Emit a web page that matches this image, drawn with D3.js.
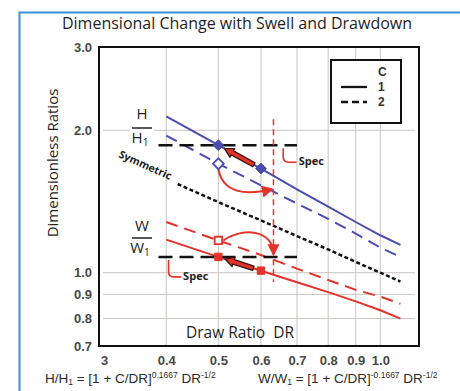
<!DOCTYPE html>
<html>
<head>
<meta charset="utf-8">
<script src="https://cdn.jsdelivr.net/npm/d3@7"></script>
<style>
  body { margin: 0; background: #fff; }
  svg { display: block; }
  .tick-label { font-family: 'Liberation Sans', Arial, sans-serif; font-size: 13px; font-weight: bold; fill: #484848; }
</style>
</head>
<body>
<div id="chart"></div>
<script>
// draw ratio values where the curves were read
const drPoints = [0.4, 0.5, 0.6, 0.7, 0.8, 0.9, 1.0, 1.09];
const symPoints = [0.42, 0.5, 0.6, 0.7, 0.8, 0.9, 1.0, 1.09];

// series values
const hSolid = [2.14, 1.86, 1.66, 1.50, 1.38, 1.28, 1.20, 1.145];
const hDashed = [1.95, 1.70, 1.53, 1.40, 1.30, 1.21, 1.13, 1.08];
const symmetric = [1.54, 1.41, 1.29, 1.195, 1.12, 1.054, 1.0, 0.958];
const wSolid = [1.175, 1.08, 1.01, 0.955, 0.91, 0.87, 0.833, 0.80];
const wDashed = [1.28, 1.17, 1.09, 1.02, 0.965, 0.92, 0.89, 0.86];

// markers
const hFilled = [{ dr: 0.5, v: 1.86 }, { dr: 0.6, v: 1.66 }];
const hOpen = [{ dr: 0.5, v: 1.70 }];
const wFilled = [{ dr: 0.5, v: 1.08 }, { dr: 0.6, v: 1.01 }];
const wOpen = [{ dr: 0.5, v: 1.17 }];

// spec lines and the limit line
const hSpec = 1.86;
const wSpec = 1.08;
const specRange = [0.387, 0.70];
const drLimit = 0.633;
const limitRange = [0.956, 2.11];

// ticks
const xTicks = [0.3, 0.4, 0.5, 0.6, 0.7, 0.8, 0.9, 1.0];
const xTickLabels = ['3', '0.4', '0.5', '0.6', '0.7', '0.8', '0.9', '1.0'];
const xGrid = [0.4, 0.5, 0.6, 0.7, 0.8, 0.9, 1.0];
const yTicks = [3.0, 2.0, 1.0, 0.9, 0.8, 0.7];
const yGrid = [2.0, 1.0, 0.9, 0.8];

const W = 460, H = 391;
const margin = { left: 99, top: 47, right: 41, bottom: 45 };
const width = W - margin.left - margin.right;
const height = H - margin.top - margin.bottom;

const blue = '#4a4dab';
const red = '#e3322a';
const sans = '"Open Sans", Lato, sans-serif';

let svg = d3.select('#chart').append('svg')
    .attr('width', W)
    .attr('height', H);

// outer blue frame
svg.append('path')
    .attr('d', `M19.5,${H} V12.5 H${W}`)
    .attr('fill', 'none')
    .attr('stroke', '#3d8fd2')
    .attr('stroke-width', 2);

// title
svg.append('text')
    .attr('x', 237).attr('y', 29)
    .attr('text-anchor', 'middle')
    .style('font-family', sans)
    .style('font-size', '16px')
    .style('fill', '#1e1e1e')
    .text('Dimensional Change with Swell and Drawdown');

// y title
svg.append('text')
    .attr('transform', 'translate(58,163) rotate(-90)')
    .attr('text-anchor', 'middle')
    .style('font-family', sans)
    .style('font-size', '15px')
    .style('fill', '#1e1e1e')
    .text('Dimensionless Ratios');

const chart = svg.append('g')
    .attr('transform', `translate(${margin.left}, ${margin.top})`);

// scales
const x = d3.scaleLog().domain([0.3, 1.18]).range([0, width]);
const y = d3.scaleLog().domain([0.7, 3.0]).range([height, 0]);

// grid
chart.append('g').attr('class', 'grid')
    .selectAll('line').data(xGrid).enter().append('line')
    .attr('x1', d => x(d)).attr('x2', d => x(d))
    .attr('y1', 0).attr('y2', height)
    .attr('stroke', '#c9c4c1').attr('stroke-width', 1);
chart.append('g').attr('class', 'grid')
    .selectAll('line').data(yGrid).enter().append('line')
    .attr('x1', 4).attr('x2', width - 4)
    .attr('y1', d => y(d)).attr('y2', d => y(d))
    .attr('stroke', '#c9c4c1').attr('stroke-width', 1);

// axes (labels only, frame drawn below)
const xAxis = chart.append('g').attr('transform', `translate(0, ${height})`)
    .call(d3.axisBottom(x).tickValues(xTicks).tickSize(0).tickPadding(10)
        .tickFormat((d, i) => xTickLabels[i]));
xAxis.select('.domain').remove();
xAxis.selectAll('text').attr('class', 'tick-label').attr('fill', null);
xAxis.selectAll('.tick').filter(d => d === 0.3).select('text').attr('dx', 5);

const yAxis = chart.append('g')
    .call(d3.axisLeft(y).tickValues(yTicks).tickSize(0).tickPadding(7)
        .tickFormat(d3.format('.1f')));
yAxis.select('.domain').remove();
yAxis.selectAll('text').attr('class', 'tick-label').attr('fill', null);

// legend box
const legend = chart.append('g').attr('transform', `translate(${331 - margin.left}, ${60 - margin.top})`);
legend.append('rect').attr('width', 70).attr('height', 63)
    .attr('fill', '#fff').attr('stroke', '#111').attr('stroke-width', 2);
[['C', 16], ['1', 31], ['2', 46]].forEach(([t, yy]) => {
    legend.append('text').attr('x', 47).attr('y', yy).text(t)
        .style('font-family', '"Liberation Sans", Arial, sans-serif')
        .style('font-size', '12px').style('font-weight', 'bold').style('fill', '#333');
});
legend.append('line').attr('x1', 10).attr('x2', 36).attr('y1', 27).attr('y2', 27)
    .attr('stroke', '#111').attr('stroke-width', 2.3);
legend.append('line').attr('x1', 10).attr('x2', 36).attr('y1', 42).attr('y2', 42)
    .attr('stroke', '#111').attr('stroke-width', 2.3).attr('stroke-dasharray', '7,4');

// series lines
const line = d3.line().x(d => x(d[0])).y(d => y(d[1]));
const series = [
    { dr: drPoints, v: hSolid, color: blue, dash: null, w: 2 },
    { dr: drPoints, v: hDashed, color: blue, dash: '12,7', w: 2 },
    { dr: symPoints, v: symmetric, color: '#111', dash: '4,2.5', w: 2.5 },
    { dr: drPoints, v: wSolid, color: red, dash: null, w: 2 },
    { dr: drPoints, v: wDashed, color: red, dash: '12,7', w: 2 }
];
chart.selectAll('.series').data(series).enter().append('path')
    .attr('class', 'series')
    .attr('d', s => line(s.dr.map((d, i) => [d, s.v[i]])))
    .attr('fill', 'none')
    .attr('stroke', s => s.color)
    .attr('stroke-width', s => s.w)
    .attr('stroke-dasharray', s => s.dash);

// spec lines
[hSpec, wSpec].forEach(v => {
    chart.append('line')
        .attr('x1', x(specRange[0])).attr('x2', x(specRange[1]))
        .attr('y1', y(v)).attr('y2', y(v))
        .attr('stroke', '#111').attr('stroke-width', 2.5)
        .attr('stroke-dasharray', '14,7');
});

// drawdown limit
chart.append('line')
    .attr('x1', x(drLimit)).attr('x2', x(drLimit))
    .attr('y1', y(limitRange[1])).attr('y2', y(limitRange[0]))
    .attr('stroke', red).attr('stroke-width', 1.5)
    .attr('stroke-dasharray', '6,4');

// thick arrows from the 0.6 marker back to the 0.5 marker
function thickArrow(from, to) {
    const x0 = x(from.dr), y0 = y(from.v), x1 = x(to.dr), y1 = y(to.v);
    const ang = Math.atan2(y1 - y0, x1 - x0);
    const len = Math.hypot(x1 - x0, y1 - y0);
    const start = 8, end = len - 7, head = 9, hw = 2.3, hh = 5;
    const pts = [
        [start, -hw], [end - head, -hw], [end - head, -hh], [end, 0],
        [end - head, hh], [end - head, hw], [start, hw]
    ];
    chart.append('polygon')
        .attr('points', pts.map(p => p.join(',')).join(' '))
        .attr('transform', `translate(${x0},${y0}) rotate(${ang * 180 / Math.PI})`)
        .attr('fill', red).attr('stroke', '#3a1510').attr('stroke-width', 1.3)
        .attr('stroke-linejoin', 'round');
}
thickArrow(hFilled[1], hFilled[0]);
thickArrow(wFilled[1], wFilled[0]);

// arrowhead marker for curved arrows
svg.append('defs').append('marker')
    .attr('id', 'head').attr('viewBox', '0 0 10 10')
    .attr('refX', 8).attr('refY', 5)
    .attr('markerWidth', 6).attr('markerHeight', 6)
    .attr('orient', 'auto')
    .append('path').attr('d', 'M0,0 L10,5 L0,10 z').attr('fill', red);

// curved arrow: open diamond to limit on dashed H line
{
    const sx = x(hOpen[0].dr), sy = y(hOpen[0].v);
    const ex = x(drLimit) - 2, ey = y(hDashed[2]) + 4;
    chart.append('path')
        .attr('d', `M${sx},${sy + 5} C${sx + 4},${sy + 30} ${sx + 28},${ey + 6} ${ex},${ey}`)
        .attr('fill', 'none').attr('stroke', red).attr('stroke-width', 2)
        .attr('marker-end', 'url(#head)');
}
// curved arrow: open square to limit on W spec line
{
    const sx = x(wOpen[0].dr), sy = y(wOpen[0].v);
    const ex = x(drLimit), ey = y(wSpec) - 3;
    chart.append('path')
        .attr('d', `M${sx + 5},${sy} C${sx + 25},${sy - 14} ${ex},${sy - 10} ${ex},${ey}`)
        .attr('fill', 'none').attr('stroke', red).attr('stroke-width', 2)
        .attr('marker-end', 'url(#head)');
}

// markers
const diamond = d3.symbol().type(d3.symbolDiamond2).size(75);
const square = d3.symbol().type(d3.symbolSquare2).size(70);
chart.selectAll('.hf').data(hFilled).enter().append('path')
    .attr('d', diamond).attr('transform', d => `translate(${x(d.dr)},${y(d.v)})`)
    .attr('fill', blue).attr('stroke', blue).attr('stroke-width', 1);
chart.selectAll('.ho').data(hOpen).enter().append('path')
    .attr('d', diamond).attr('transform', d => `translate(${x(d.dr)},${y(d.v)})`)
    .attr('fill', '#fff').attr('stroke', blue).attr('stroke-width', 1.8);
chart.selectAll('.wf').data(wFilled).enter().append('path')
    .attr('d', square).attr('transform', d => `translate(${x(d.dr)},${y(d.v)})`)
    .attr('fill', red).attr('stroke', red).attr('stroke-width', 1);
chart.selectAll('.wo').data(wOpen).enter().append('path')
    .attr('d', square).attr('transform', d => `translate(${x(d.dr)},${y(d.v)})`)
    .attr('fill', '#fff').attr('stroke', red).attr('stroke-width', 1.8);

// spec brackets and labels
function specLabel(bx, by, tx, ty) {
    chart.append('path')
        .attr('d', `M${bx},${by} V${ty - 8} Q${bx},${ty - 3} ${bx + 6},${ty - 3} H${tx - 2}`)
        .attr('fill', 'none').attr('stroke', red).attr('stroke-width', 1.6);
    chart.append('text').attr('x', tx).attr('y', ty)
        .style('font-family', sans)
        .style('font-size', '11px').style('font-weight', 'bold')
        .style('fill', '#222').text('Spec');
}
specLabel(x(0.66), y(hSpec) + 3, x(0.705), y(hSpec) + 20);
specLabel(x(0.404), y(wSpec) + 3, x(0.43), y(wSpec) + 23);

// Symmetric label along its line
{
    const ang = Math.atan2(y(symmetric[1]) - y(symmetric[0]), x(symPoints[1]) - x(symPoints[0])) * 180 / Math.PI;
    chart.append('text')
        .attr('transform', `translate(${118 - margin.left},${157 - margin.top}) rotate(${ang})`)
        .style('font-family', sans)
        .style('font-size', '10.5px').style('font-weight', 'bold')
        .style('fill', '#222').text('Symmetric');
}

// fraction labels
function fraction(cx, topY, barY, num, den) {
    const g = chart.append('g');
    g.append('rect').attr('x', cx - 12).attr('y', topY - 13).attr('width', 24).attr('height', 36).attr('fill', '#fff');
    const f = s => s.style('font-family', sans).style('font-size', '15px').style('fill', '#222');
    f(g.append('text').attr('x', cx).attr('y', topY).attr('text-anchor', 'middle').text(num));
    g.append('line').attr('x1', cx - 10).attr('x2', cx + 10).attr('y1', barY).attr('y2', barY)
        .attr('stroke', '#222').attr('stroke-width', 1.5);
    const t = f(g.append('text').attr('x', cx - 2).attr('y', barY + 15).attr('text-anchor', 'middle'));
    t.append('tspan').text(den);
    t.append('tspan').attr('dy', 3).style('font-size', '10px').text('1');
}
fraction(142 - margin.left, 119 - margin.top, 128 - margin.top, 'H', 'H');
fraction(142 - margin.left, 231 - margin.top, 238 - margin.top, 'W', 'W');

// x title inside plot
chart.append('text')
    .attr('x', 240 - margin.left).attr('y', 338 - margin.top)
    .attr('text-anchor', 'middle')
    .style('font-family', sans)
    .style('font-size', '15.5px').style('fill', '#1e1e1e')
    .attr('xml:space', 'preserve')
    .text('Draw Ratio  DR');

// plot frame
chart.append('rect').attr('width', width).attr('height', height)
    .attr('fill', 'none').attr('stroke', '#111').attr('stroke-width', 2);

// formulas
function formula(x0, sign) {
    const t = svg.append('text').attr('x', x0).attr('y', 383)
        .style('font-family', '"Liberation Sans", Arial, sans-serif')
        .style('font-size', '13.5px').style('fill', '#2a2a2a');
    const name = sign ? 'W/W' : 'H/H';
    t.append('tspan').text(name);
    t.append('tspan').attr('dy', 2).style('font-size', '8.5px').text('1');
    t.append('tspan').attr('dy', -2).text(' = [1 + C/DR]');
    t.append('tspan').attr('dy', -5).style('font-size', '8.5px').text(sign ? '-0.1667' : '0.1667');
    t.append('tspan').attr('dy', 5).text(' DR');
    t.append('tspan').attr('dy', -5).style('font-size', '8.5px').text('-1/2');
}
formula(45, false);
formula(258, true);
</script>
</body>
</html>
